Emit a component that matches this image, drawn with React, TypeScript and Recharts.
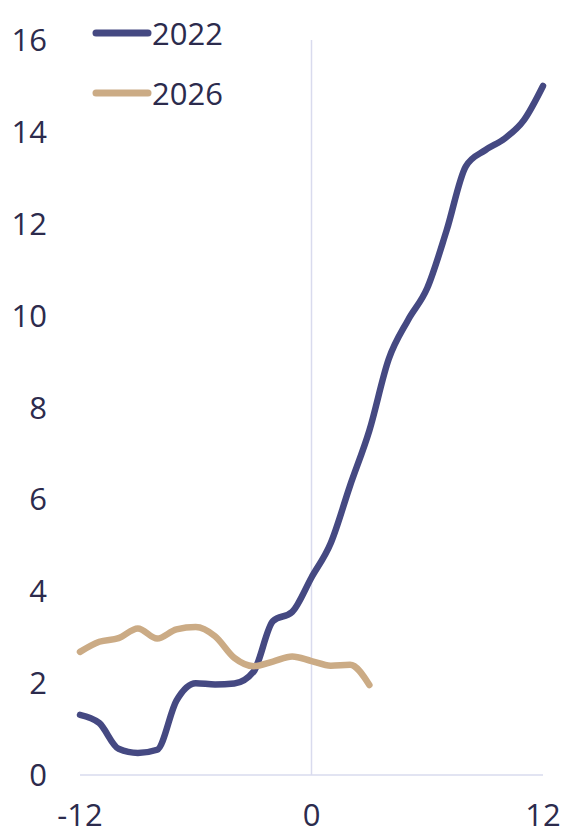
import React from 'react';
import { LineChart, Line, XAxis, YAxis, ReferenceLine, Legend } from 'recharts';

const months = [-12, -11, -10, -9, -8, -7, -6, -5, -4, -3, -2, -1, 0, 1, 2, 3, 4, 5, 6, 7, 8, 9, 10, 11, 12];
const values2022 = [1.31, 1.13, 0.57, 0.48, 0.55, 1.62, 2.0, 1.97, 1.99, 2.25, 3.35, 3.55, 4.3, 5.05, 6.3, 7.5, 9.05, 9.9, 10.6, 11.85, 13.25, 13.6, 13.85, 14.25, 15.0];
const months2026 = [-12, -11, -10, -9, -8, -7, -6, -5, -4, -3, -2, -1, 0, 1, 2, 3];
const values2026 = [2.68, 2.9, 2.98, 3.19, 2.97, 3.17, 3.22, 3.02, 2.55, 2.37, 2.47, 2.58, 2.48, 2.38, 2.4, 1.96];
const yTicks = [0, 2, 4, 6, 8, 10, 12, 14, 16];
const xTicks = [-12, 0, 12];

const data2022 = months.map((m, i) => ({ x: m, v: values2022[i] }));
const data2026 = months2026.map((m, i) => ({ x: m, v: values2026[i] }));

const TEXT = '#2c2b4d';
const NAVY = '#454982';
const TAN = '#cbab85';
const GRID = '#d9dbee';
const FONT = '"Open Sans", sans-serif';

const LegendContent = (props: any) => {
  const items = [
    { name: '2022', color: NAVY },
    { name: '2026', color: TAN },
  ];
  return (
    <div style={{ fontFamily: FONT }}>
      {items.map((it) => (
        <div key={it.name} style={{ display: 'flex', alignItems: 'center', height: 50, marginBottom: 10 }}>
          <svg width={60} height={12} style={{ display: 'block' }}>
            <line x1={4} y1={6} x2={56} y2={6} stroke={it.color} strokeWidth={7} strokeLinecap="round" />
          </svg>
          <span style={{ fontSize: 31, color: TEXT, marginLeft: 0, lineHeight: '50px' }}>{it.name}</span>
        </div>
      ))}
    </div>
  );
};

export default function App() {
  return (
    <div style={{ position: 'absolute', left: 8, top: 8, width: 555, height: 827, fontFamily: FONT }}>
      <LineChart width={555} height={827} margin={{ top: 32, right: 20, bottom: 0, left: 0 }}>
        <XAxis
          dataKey="x"
          type="number"
          domain={[-12, 12]}
          ticks={xTicks}
          allowDuplicatedCategory={false}
          height={60}
          axisLine={{ stroke: GRID, strokeWidth: 1.5 }}
          tickLine={false}
          tickSize={0}
          tickMargin={29}
          tick={{ fill: TEXT, fontSize: 31, fontFamily: FONT }}
        />
        <YAxis
          type="number"
          domain={[0, 16]}
          ticks={yTicks}
          width={72}
          axisLine={false}
          tickLine={false}
          tickSize={0}
          tickMargin={33}
          tick={{ fill: TEXT, fontSize: 31, fontFamily: FONT }}
        />
        <ReferenceLine x={0} stroke={GRID} strokeWidth={1.5} />
        <Legend
          layout="vertical"
          align="center"
          verticalAlign="middle"
          content={<LegendContent />}
          wrapperStyle={{ left: 84, top: 0, width: 200, height: 120 }}
        />
        <Line
          data={data2022}
          dataKey="v"
          name="2022"
          type="monotone"
          stroke={NAVY}
          strokeWidth={6.5}
          strokeLinecap="round"
          dot={false}
          activeDot={false}
          isAnimationActive={false}
        />
        <Line
          data={data2026}
          dataKey="v"
          name="2026"
          type="monotone"
          stroke={TAN}
          strokeWidth={6.5}
          strokeLinecap="round"
          dot={false}
          activeDot={false}
          isAnimationActive={false}
        />
      </LineChart>
    </div>
  );
}
